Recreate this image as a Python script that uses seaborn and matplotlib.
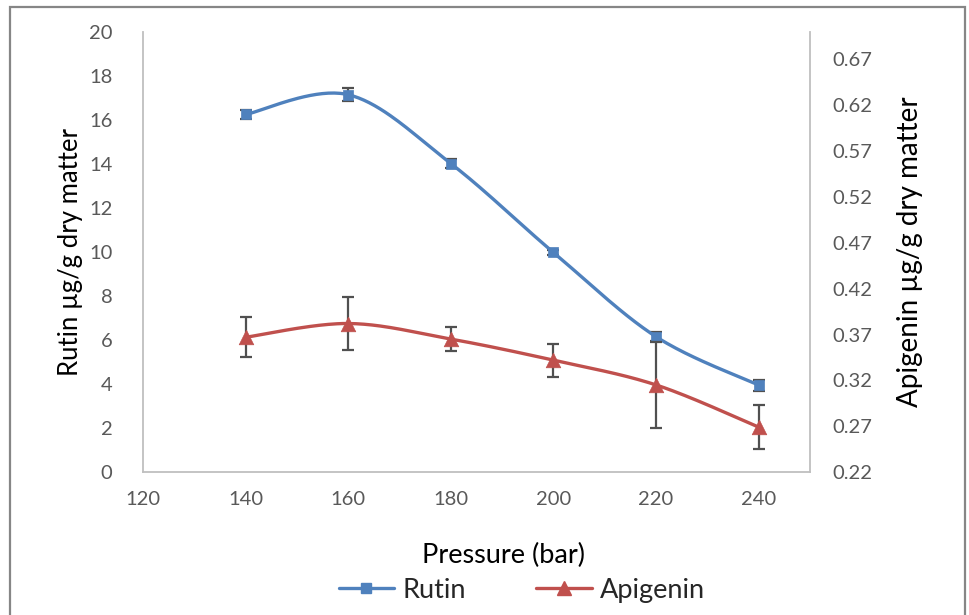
import numpy as np
import pandas as pd
import matplotlib
matplotlib.use("Agg")
import matplotlib.pyplot as plt
from matplotlib.lines import Line2D
from matplotlib.patches import Rectangle
import seaborn as sns

# Extraction yields versus pressure
pressure = [140, 160, 180, 200, 220, 240]
rutin = [16.25, 17.15, 14.02, 9.98, 6.15, 3.95]
rutin_err = [0.2, 0.3, 0.2, 0.12, 0.2, 0.25]
apigenin = [0.367, 0.382, 0.365, 0.342, 0.315, 0.269]
apigenin_err = [0.022, 0.029, 0.013, 0.018, 0.047, 0.024]

left_ticks = list(range(0, 21, 2))
right_ticks = [0.22, 0.27, 0.32, 0.37, 0.42, 0.47, 0.52, 0.57, 0.62, 0.67]
x_ticks = [120, 140, 160, 180, 200, 220, 240]

BLUE = "#4F81BD"
RED = "#C0504D"
TICK_GREY = "#595959"
SPINE_GREY = "#BFBFBF"
ERR_GREY = "#505050"

sns.set_theme(style="white")
plt.rcParams["font.family"] = ["Lato", "DejaVu Sans"]


def smooth_curve(xs, ys, steps=40):
    """Excel-style smoothed line: cubic Bezier segments with 1/6 tangents."""
    p = np.column_stack([xs, ys]).astype(float)
    ext = np.vstack([p[0], p, p[-1]])
    t = np.linspace(0, 1, steps)[:, None]
    out = []
    for i in range(len(p) - 1):
        p0, p1 = ext[i + 1], ext[i + 2]
        c1 = p0 + (ext[i + 2] - ext[i]) / 6.0
        c2 = p1 - (ext[i + 3] - ext[i + 1]) / 6.0
        seg = ((1 - t) ** 3) * p0 + 3 * ((1 - t) ** 2) * t * c1 \
            + 3 * (1 - t) * t ** 2 * c2 + t ** 3 * p1
        out.append(seg if i == 0 else seg[1:])
    curve = np.vstack(out)
    return pd.DataFrame({"x": curve[:, 0], "y": curve[:, 1]})


fig = plt.figure(figsize=(9.7, 6.15), dpi=100)
ax = fig.add_axes([0.1474, 0.2325, 0.6876, 0.7155])
ax2 = ax.twinx()

# Rutin on the primary axis
ax.errorbar(pressure, rutin, yerr=rutin_err, fmt="none", ecolor=ERR_GREY,
            elinewidth=1.6, capsize=4.3, capthick=1.6, zorder=2)
sns.lineplot(data=smooth_curve(pressure, rutin), x="x", y="y", ax=ax,
             color=BLUE, linewidth=2.4, sort=False, estimator=None, zorder=3)
sns.scatterplot(x=pressure, y=rutin, ax=ax, marker="s", s=55, color=BLUE,
                edgecolor=BLUE, linewidth=0.5, zorder=4)

# Apigenin on the secondary axis
ax2.errorbar(pressure, apigenin, yerr=apigenin_err, fmt="none", ecolor=ERR_GREY,
             elinewidth=1.6, capsize=4.3, capthick=1.6, zorder=2)
sns.lineplot(data=smooth_curve(pressure, apigenin), x="x", y="y", ax=ax2,
             color=RED, linewidth=2.4, sort=False, estimator=None, zorder=3)
sns.scatterplot(x=pressure, y=apigenin, ax=ax2, marker="^", s=110, color=RED,
                edgecolor=RED, linewidth=0.5, zorder=4)

ax.set_xlim(120, 250)
ax.set_xticks(x_ticks)
ax.set_ylim(0, 20)
ax.set_yticks(left_ticks)
ax2.set_ylim(0.22, 0.70)
ax2.set_yticks(right_ticks)
ax2.set_yticklabels([f"{v:.2f}" for v in right_ticks])

for a in (ax, ax2):
    for side in ("top", "left", "right", "bottom"):
        a.spines[side].set_visible(False)
    a.tick_params(length=0, labelsize=14.5, labelcolor=TICK_GREY)
    a.grid(False)
ax.spines["left"].set_visible(True)
ax.spines["bottom"].set_visible(True)
ax2.spines["right"].set_visible(True)
for sp in (ax.spines["left"], ax.spines["bottom"], ax2.spines["right"]):
    sp.set_color(SPINE_GREY)
    sp.set_linewidth(1.3)

ax.tick_params(axis="y", pad=22)
ax.tick_params(axis="x", pad=14)
ax2.tick_params(axis="y", pad=16)

ax.set_xlabel("Pressure (bar)", fontsize=19.5, color="black")
ax.xaxis.set_label_coords(0.541, -0.162)
ax.set_ylabel("Rutin µg/g dry matter", fontsize=18.5, color="black")
ax.yaxis.set_label_coords(-0.09, 0.5)
ax2.set_ylabel("Apigenin µg/g dry matter", fontsize=20, color="black",
               rotation=90)
ax2.yaxis.set_label_coords(1.131, 0.5)

handles = [
    Line2D([0], [0], color=BLUE, lw=2.4, marker="s", markersize=7),
    Line2D([0], [0], color=RED, lw=2.4, marker="^", markersize=10),
]
fig.legend(handles, ["Rutin", "Apigenin"], loc="center",
           bbox_to_anchor=(0.538, 0.040), ncol=2, frameon=False,
           fontsize=19.5, handlelength=2.05, handletextpad=0.3,
           columnspacing=2.6)

# Chart-area frame
fig.patches.append(Rectangle((0.0103, -0.05), 0.9845, 1.0386,
                             transform=fig.transFigure, fill=False,
                             edgecolor="#868686", linewidth=1.6))

fig.savefig("out.png", dpi=100)
